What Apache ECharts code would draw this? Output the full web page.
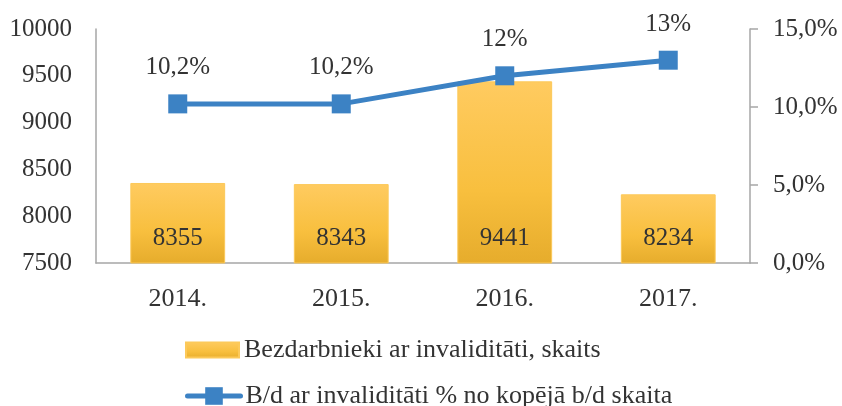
<!DOCTYPE html>
<html>
<head>
<meta charset="utf-8">
<script src="https://cdn.jsdelivr.net/npm/echarts@6/dist/echarts.min.js"></script>
<style>html,body{margin:0;padding:0;background:#fff}#c{width:842px;height:406px}</style>
</head>
<body>
<div id="c"></div>
<script>
const categories = ['2014.', '2015.', '2016.', '2017.'];
const barValues = [8355, 8343, 9441, 8234];
const lineValues = [10.2, 10.2, 12, 13];
const lineLabels = ['10,2%', '10,2%', '12%', '13%'];
const leftTicks = [7500, 10000, 500];
const rightTicks = [0, 15, 5];
const barName = 'Bezdarbnieki ar invaliditāti, skaits';
const lineName = 'B/d ar invaliditāti % no kopējā b/d skaita';

const font = '"Liberation Serif", "Times New Roman", serif';
const txt = '#333';
const chart = echarts.init(document.getElementById('c'));
chart.setOption({
  animation: false,
  textStyle: { fontFamily: font },
  grid: { left: 96, right: 92, top: 29, bottom: 143 },
  legend: [
    {
      left: 180, top: 332,
      itemWidth: 53, itemHeight: 15,
      textStyle: { fontFamily: font, fontSize: 26, color: txt },
      data: [{ name: barName, icon: 'rect' }]
    },
    {
      left: 180, top: 378,
      itemWidth: 53, itemHeight: 22,
      lineStyle: { width: 5, cap: 'round' },
      textStyle: { fontFamily: font, fontSize: 26, color: txt },
      data: [{ name: lineName }]
    }
  ],
  xAxis: {
    type: 'category', data: categories,
    axisLine: { lineStyle: { color: '#a6a6a6', width: 1.5 } },
    axisTick: { show: false },
    axisLabel: { fontFamily: font, fontSize: 26, color: txt, margin: 23 }
  },
  yAxis: [
    {
      type: 'value', min: leftTicks[0], max: leftTicks[1], interval: leftTicks[2],
      splitLine: { show: false },
      axisLine: { show: true, lineStyle: { color: '#a6a6a6', width: 1.5 } },
      axisTick: { show: false },
      axisLabel: { fontFamily: font, fontSize: 25, color: txt, margin: 24,
        formatter: v => String(v) }
    },
    {
      type: 'value', min: rightTicks[0], max: rightTicks[1], interval: rightTicks[2],
      splitLine: { show: false },
      axisLine: { show: true, lineStyle: { color: '#a6a6a6', width: 1.5 } },
      axisTick: { show: true, length: 8, lineStyle: { color: '#a6a6a6', width: 1.5 } },
      axisLabel: { fontFamily: font, fontSize: 25, color: txt, margin: 23,
        formatter: v => v.toFixed(1).replace('.', ',') + '%' }
    }
  ],
  series: [
    {
      name: barName, type: 'bar', yAxisIndex: 0, data: barValues,
      barCategoryGap: '42%',
      itemStyle: {
        color: new echarts.graphic.LinearGradient(0, 0, 0, 1, [
          { offset: 0, color: '#FFCB60' },
          { offset: 0.6, color: '#F8BF3E' },
          { offset: 1, color: '#E6AC2C' }
        ]),
        borderColor: '#FCC95A', borderWidth: 1
      },
      label: { show: true, position: 'insideBottom', distance: 13,
        fontFamily: font, fontSize: 25, color: txt }
    },
    {
      name: lineName, type: 'line', yAxisIndex: 1, data: lineValues,
      symbol: 'rect', symbolSize: 19,
      lineStyle: { color: '#3C82C4', width: 5 },
      itemStyle: { color: '#3C82C4' },
      label: { show: true, position: 'top', distance: 14,
        fontFamily: font, fontSize: 25, color: txt,
        formatter: p => lineLabels[p.dataIndex] }
    }
  ]
});
</script>
</body>
</html>
